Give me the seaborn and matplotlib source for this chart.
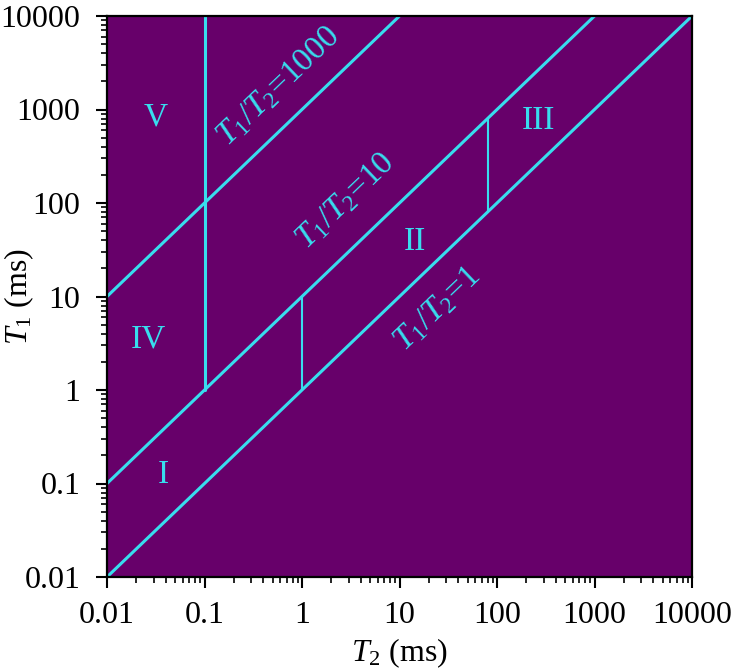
import numpy as np
import pandas as pd
import matplotlib
matplotlib.use("Agg")
import matplotlib.pyplot as plt
import seaborn as sns

# ---- data ----
ratios = [1, 10, 1000]                      # T1/T2 boundary lines
diag_x_start = [0.01, 0.01, 0.01]
diag_x_end = [10000, 1000, 10]
vert_x = [0.1, 1, 80]                       # vertical boundary lines (T2)
vert_y_low = [1, 1, 80]
vert_y_high = [10000, 10, 800]
vert_width = [2.2, 1.5, 1.5]
region_names = ["I", "II", "III", "IV", "V"]
region_x = [0.0375, 14.4, 263, 0.0263, 0.0318]
region_y = [0.124, 38.8, 750, 3.46, 828]
ratio_labels = [r"$T_1$/$T_2$=1", r"$T_1$/$T_2$=10", r"$T_1$/$T_2$=1000"]
ratio_label_x = [24.3, 2.76, 0.568]
ratio_label_y = [7.26, 104, 1778]
tick_values = [0.01, 0.1, 1, 10, 100, 1000, 10000]
tick_labels = ["0.01", "0.1", "1", "10", "100", "1000", "10000"]

bg = "#67006A"
cyan = "#38DDEE"

sns.set_theme(style="white")
plt.rcParams["font.family"] = ["Liberation Serif", "DejaVu Serif"]
plt.rcParams["mathtext.fontset"] = "custom"
plt.rcParams["mathtext.rm"] = "Liberation Serif"
plt.rcParams["mathtext.it"] = "Liberation Serif:italic"

fig = plt.figure(figsize=(7.39, 6.72), dpi=100)
ax = fig.add_axes([107 / 739, 1 - 577 / 672, 585 / 739, 561 / 672])
ax.set_facecolor(bg)

# diagonal lines
rows = []
for r, xs, xe in zip(ratios, diag_x_start, diag_x_end):
    for x in (xs, xe):
        rows.append({"seg": f"d{r}", "x": x, "y": r * x})
diag = pd.DataFrame(rows)
sns.lineplot(data=diag, x="x", y="y", units="seg", estimator=None, sort=False,
             color=cyan, lw=2.2, ax=ax, legend=False)

# vertical lines
for i, (vx, yl, yh, w) in enumerate(zip(vert_x, vert_y_low, vert_y_high, vert_width)):
    vd = pd.DataFrame({"x": [vx, vx], "y": [yl, yh]})
    sns.lineplot(data=vd, x="x", y="y", estimator=None, sort=False,
                 color=cyan, lw=w, ax=ax, legend=False)

ax.set_xscale("log")
ax.set_yscale("log")
ax.set_xlim(0.01, 10000)
ax.set_ylim(0.01, 10000)

# angle of diagonal in display coords
fig.canvas.draw()
p0 = ax.transData.transform((0.01, 0.01))
p1 = ax.transData.transform((10000, 10000))
ang = np.degrees(np.arctan2(p1[1] - p0[1], p1[0] - p0[0]))

for name, x, y in zip(region_names, region_x, region_y):
    ax.text(x, y, name, color=cyan, fontsize=24, ha="center", va="center")
for lab, x, y in zip(ratio_labels, ratio_label_x, ratio_label_y):
    ax.text(x, y, lab, color=cyan, fontsize=24, ha="center", va="center",
            rotation=ang, rotation_mode="anchor")

ax.set_xticks(tick_values)
ax.set_xticklabels(tick_labels)
ax.set_yticks(tick_values)
ax.set_yticklabels(tick_labels)
ax.tick_params(axis="both", which="major", direction="out", length=8, width=1.5,
               labelsize=23, color="black", labelcolor="black",
               bottom=True, left=True, top=False, right=False)
ax.tick_params(axis="x", which="major", pad=9)
ax.tick_params(axis="y", which="major", pad=11)
ax.tick_params(axis="both", which="minor", direction="out", length=4.5, width=1.2,
               color="black", bottom=True, left=True, top=False, right=False)
for s in ax.spines.values():
    s.set_visible(True)
    s.set_color("black")
    s.set_linewidth(1.6)
ax.grid(False)

ax.set_xlabel(r"$T_2$ (ms)", fontsize=23, color="black")
ax.set_ylabel(r"$T_1$ (ms)", fontsize=23, color="black")
ax.xaxis.set_label_coords(0.5, (577 - 636) / 561)
ax.yaxis.set_label_coords((36 - 107) / 585, 0.5)

fig.savefig("out.png", dpi=100, facecolor="white")
